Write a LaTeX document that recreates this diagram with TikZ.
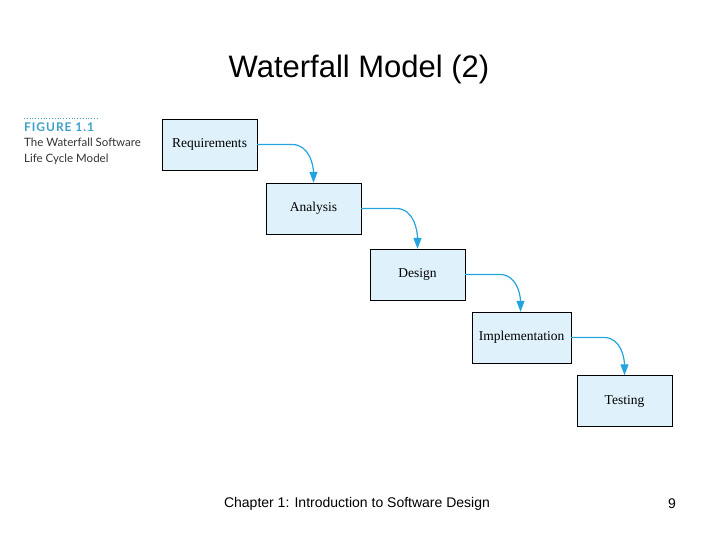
\documentclass[tikz,border=0pt]{standalone}
\usepackage{fontspec}
\setmainfont{Liberation Serif}
\newfontfamily\arial{Liberation Sans}
\newfontfamily\lato{Lato}
\newfontfamily\latowide{Lato}[LetterSpace=8]
\usetikzlibrary{positioning, arrows.meta}
\definecolor{stepfill}{RGB}{223,241,251}
\definecolor{flowblue}{RGB}{36,164,222}
\definecolor{figblue}{RGB}{60,160,200}
\begin{document}
\begin{tikzpicture}[x=1pt, y=-1pt,
						phase/.style = {draw, fill=stepfill, rectangle, minimum width=95pt, minimum height=51pt, font=\fontsize{13.5}{15}\selectfont, inner sep=0pt},
						flow/.style = {draw=flowblue, line width=1.2pt, -{Triangle[length=11pt, width=8pt]}}
					]
\useasboundingbox (0,0) rectangle (720,540);
\node[font=\arial\fontsize{31}{34}\selectfont] (title) at (359,69) {Waterfall Model (2)};
\node[font=\arial\fontsize{14}{16}\selectfont] (foot) at (357,504) {Chapter 1: Introduction to Software Design};
\node[font=\arial\fontsize{14}{16}\selectfont] (page) at (672,504) {9};
% figure caption
\draw[figblue, dotted, line width=0.8pt] (24,118) -- (97,118);
\node[anchor=north west, inner sep=0pt, text=figblue, font=\latowide\bfseries\fontsize{12}{14}\selectfont] (fig) at (24,123) {FIGURE 1.1};
\node[anchor=north west, inner sep=0pt, align=left, text=black!80, font=\lato\fontsize{11.5}{16}\selectfont] (cap) at (24,138) {The Waterfall Software\\Life Cycle Model};
% steps
\node[phase] (req) at (209.5,144.5) {Requirements};
\node[phase] (ana) at (313.5,208.5) {Analysis};
\node[phase] (des) at (417.5,274.5) {Design};
\node[phase, minimum width=99pt] (imp) at (521.5,337.5) {Implementation};
\node[phase] (tes) at (624.5,401) {Testing};
\draw[flow] (req.east) -- ++(35,0) to[out=0, in=90] (ana.north);
\draw[flow] (ana.east) -- ++(35,0) to[out=0, in=90] (des.north);
\draw[flow] (des.east) -- ++(35,0) to[out=0, in=90] ([xshift=-1pt]imp.north);
\draw[flow] (imp.east) -- ++(33,0) to[out=0, in=90] (tes.north);
\end{tikzpicture}
\end{document}
